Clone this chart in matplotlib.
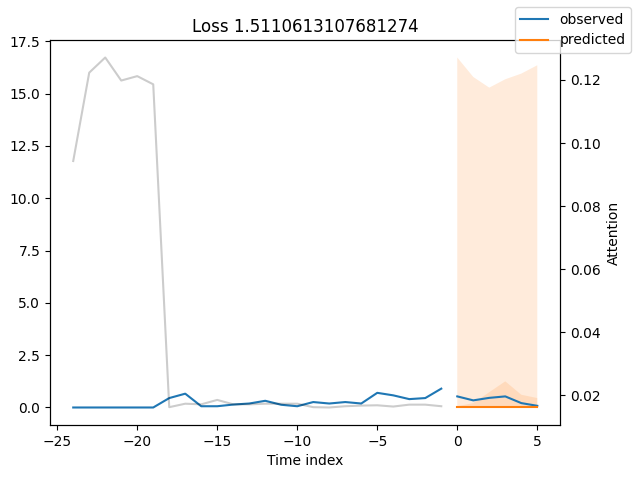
import matplotlib
matplotlib.use("Agg")
import matplotlib.pyplot as plt

loss = 1.5110613107681274

x_obs = list(range(-24, 0))
x_pred = list(range(0, 6))

observed = [0.0, 0.0, 0.0, 0.0, 0.0, 0.0, 0.45, 0.66, 0.06, 0.06, 0.14, 0.19,
            0.32, 0.13, 0.06, 0.26, 0.19, 0.26, 0.19, 0.70, 0.58, 0.40, 0.45, 0.90]
actual_future = [0.53, 0.34, 0.46, 0.53, 0.21, 0.08]
predicted = [0.0, 0.0, 0.0, 0.0, 0.0, 0.0]

# quantile bands (lower, upper), outermost first
q_outer_low = [0.0, 0.0, 0.0, 0.0, 0.0, 0.0]
q_outer_high = [16.72, 15.79, 15.28, 15.68, 15.95, 16.35]
q_mid_low = [0.0, 0.0, 0.0, 0.0, 0.0, 0.0]
q_mid_high = [0.06, 0.21, 0.73, 1.25, 0.61, 0.45]

attention = [0.0943, 0.1223, 0.1271, 0.1198, 0.1212, 0.1186, 0.0163, 0.0174,
             0.0172, 0.0186, 0.0172, 0.0172, 0.0174, 0.0174, 0.0174, 0.0163,
             0.0162, 0.0166, 0.0168, 0.0169, 0.0165, 0.0171, 0.0171, 0.0166]

obs_color = "#1f77b4"
pred_color = "#ff7f0e"

fig, ax = plt.subplots(figsize=(6.38, 4.78), dpi=100)

ax.plot(x_obs, observed, label="observed", c=obs_color)
ax.plot(x_pred, actual_future, c=obs_color)
ax.plot(x_pred, predicted, label="predicted", c=pred_color)
ax.fill_between(x_pred, q_outer_low, q_outer_high, alpha=0.15, fc=pred_color)
ax.fill_between(x_pred, q_mid_low, q_mid_high, alpha=0.15, fc=pred_color)
ax.set_title(f"Loss {loss}")
ax.set_xlabel("Time index")

ax2 = ax.twinx()
ax2.set_ylabel("Attention")
ax2.plot(x_obs, attention, alpha=0.2, color="k")

fig.subplots_adjust(left=0.0784, right=0.8785, top=0.9163, bottom=0.1109)
fig.legend()
fig.savefig("out.png", dpi=100)
